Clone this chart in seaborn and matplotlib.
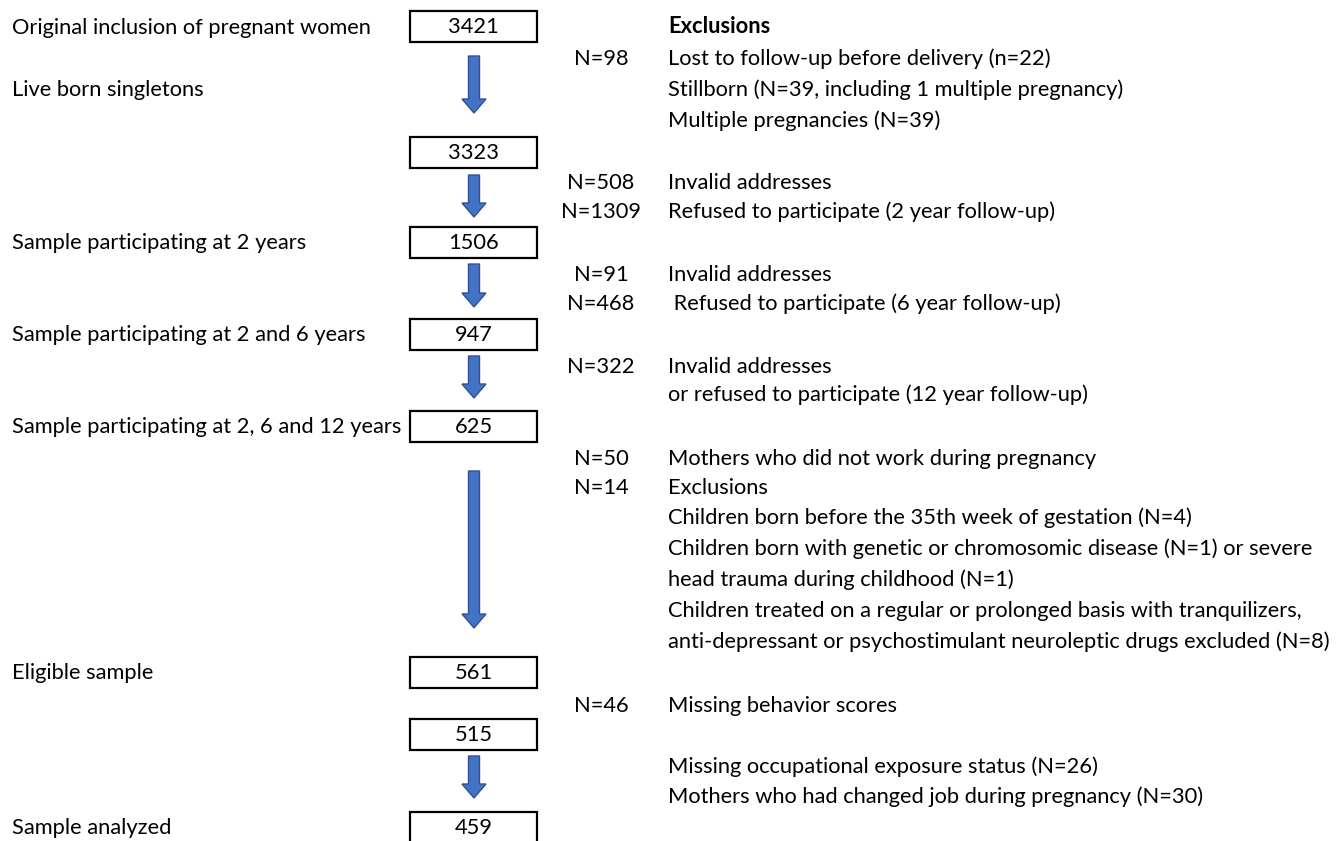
import matplotlib
matplotlib.use("Agg")
import matplotlib.pyplot as plt
import seaborn as sns
from matplotlib.patches import Rectangle, FancyArrow

sns.set_theme(style="white")
plt.rcParams['font.family'] = ['Lato', 'DejaVu Sans']

# ---- data ----
box_values = [3421, 3323, 1506, 947, 625, 561, 515, 459]
left_labels = [
    "Original inclusion of pregnant women",
    "Live born singletons",
    "Sample participating at 2 years",
    "Sample participating at 2 and 6 years",
    "Sample participating at 2, 6 and 12 years",
    "Eligible sample",
    "Sample analyzed",
]
left_label_rows = [27, 89, 242, 334, 426, 672, 827]
box_rows = [26, 152, 242, 334, 426, 672, 734, 827]
arrow_spans = [(56, 113), (175, 217), (264, 307), (356, 398), (471, 628), (756, 798)]

n_labels = ["N=98", "N=508", "N=1309", "N=91", "N=468", "N=322", "N=50", "N=14", "N=46"]
n_rows = [58, 182, 211, 274, 303, 366, 458, 487, 705]

excl_title = "Exclusions"
excl_lines = [
    "Lost to follow-up before delivery (n=22)",
    "Stillborn (N=39, including 1 multiple pregnancy)",
    "Multiple pregnancies (N=39)",
    "Invalid addresses",
    "Refused to participate (2 year follow-up)",
    "Invalid addresses",
    " Refused to participate (6 year follow-up)",
    "Invalid addresses",
    "or refused to participate (12 year follow-up)",
    "Mothers who did not work during pregnancy",
    "Exclusions",
    "Children born before the 35th week of gestation (N=4)",
    "Children born with genetic or chromosomic disease (N=1) or severe",
    "head trauma during childhood (N=1)",
    "Children treated on a regular or prolonged basis with tranquilizers,",
    "anti-depressant or psychostimulant neuroleptic drugs excluded (N=8)",
    "Missing behavior scores",
    "Missing occupational exposure status (N=26)",
    "Mothers who had changed job during pregnancy (N=30)",
]
excl_rows = [58, 89, 120, 182, 211, 274, 303, 366, 394, 458, 487, 517, 548, 579,
             610, 641, 705, 766, 796]

W, H = 1336, 841
fig = plt.figure(figsize=(W / 100, H / 100), dpi=100)
ax = fig.add_axes([0, 0, 1, 1])
ax.set_xlim(0, W)
ax.set_ylim(H, 0)
ax.axis("off")

# font size calibrated to reference text width
renderer = fig.canvas.get_renderer()
probe = ax.text(0, 0, left_labels[0], fontsize=10)
w10 = probe.get_window_extent(renderer).width
probe.remove()
fs = 10 * 361 / w10
dy = 7  # baseline offset from row centre (pixels)

box_x0, box_x1, box_h = 410, 537, 31
box_cx = (box_x0 + box_x1) / 2
for v, y in zip(box_values, box_rows):
    ax.add_patch(Rectangle((box_x0, y - box_h / 2), box_x1 - box_x0, box_h,
                           facecolor="white", edgecolor="black", lw=1.6))
    ax.text(box_cx, y + dy, str(v), ha="center", va="baseline", fontsize=fs, color="black")

for lab, y in zip(left_labels, left_label_rows):
    ax.text(12, y + dy, lab, ha="left", va="baseline", fontsize=fs, color="black")

for y0, y1 in arrow_spans:
    ax.add_patch(FancyArrow(474, y0, 0, y1 - y0, width=11, head_width=24,
                            head_length=14, length_includes_head=True,
                            facecolor="#4472C4", edgecolor="#2F528F", lw=1.0))

for lab, y in zip(n_labels, n_rows):
    ax.text(601, y + dy, lab, ha="center", va="baseline", fontsize=fs, color="black")

ax.text(668, 26 + dy, excl_title, ha="left", va="baseline", fontsize=fs,
        fontweight="bold", color="black")
for lab, y in zip(excl_lines, excl_rows):
    ax.text(668, y + dy, lab, ha="left", va="baseline", fontsize=fs, color="black")

fig.savefig("out.png", dpi=100, facecolor="white")
